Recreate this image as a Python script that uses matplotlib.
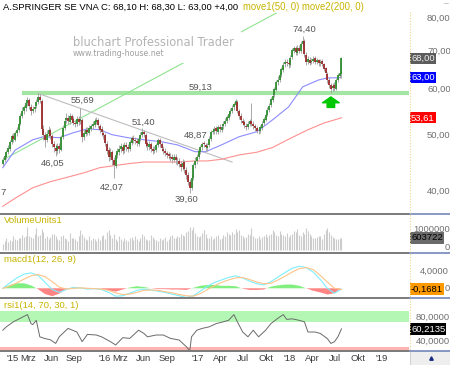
import numpy as np
import pandas as pd
import matplotlib
matplotlib.use("Agg")
import matplotlib.pyplot as plt
import matplotlib.dates as mdates
from matplotlib.transforms import blended_transform_factory
from matplotlib.lines import Line2D
from matplotlib.patches import Rectangle

plt.rcParams['font.family'] = ['Liberation Sans', 'DejaVu Sans']

# weekly candles, A.SPRINGER SE, Nov 2014 - Jul 2018
opens = [
    44.6, 45.3, 45.9, 46.7, 47.4, 48.7, 49.9, 49.1, 50.5, 51.1,
    52.4, 54.1, 55.1, 55.8, 56.9, 57.5, 56.1, 55.1, 55.5, 56.2,
    57.1, 58.2, 57.4, 51.3, 50.0, 49.1, 50.2, 51.0, 49.9, 48.3,
    47.5, 47.0, 47.9, 47.2, 49.7, 51.4, 53.1, 53.5, 52.8, 54.0,
    53.3, 52.5, 52.4, 53.3, 52.9, 53.2, 49.7, 50.3, 51.1, 50.5,
    51.3, 51.9, 52.1, 52.8, 53.2, 51.9, 51.2, 50.5, 50.1, 48.3,
    47.1, 45.8, 46.7, 45.3, 44.2, 46.2, 46.8, 47.4, 47.7, 47.1,
    48.0, 47.7, 47.3, 48.5, 49.5, 49.0, 48.9, 48.3, 49.3, 50.0,
    50.7, 50.1, 48.4, 47.7, 48.3, 47.3, 47.0, 47.1, 48.1, 49.0,
    48.3, 47.4, 47.0, 46.5, 46.3, 45.9, 45.8, 45.3, 45.9, 45.1,
    45.1, 44.5, 44.0, 44.9, 43.5, 42.7, 41.4, 40.5, 42.1, 44.4,
    45.0, 45.9, 46.8, 47.7, 48.4, 48.1, 47.5, 48.0, 49.2, 50.7,
    50.8, 51.4, 50.7, 51.7, 51.1, 51.8, 52.3, 53.0, 53.6, 54.5,
    55.0, 55.9, 56.5, 57.2, 55.1, 54.1, 53.0, 52.7, 51.9, 51.7,
    52.2, 53.0, 52.3, 51.8, 51.5, 50.8, 50.9, 51.5, 52.5, 53.2,
    54.3, 55.3, 56.4, 57.7, 58.7, 60.0, 61.9, 62.4, 63.7, 65.0,
    66.4, 67.1, 66.9, 66.3, 68.3, 70.2, 70.9, 69.6, 71.0, 70.1,
    72.2, 72.9, 69.1, 67.1, 67.7, 67.0, 67.3, 68.1, 67.0, 67.6,
    66.7, 67.3, 66.5, 65.4, 64.0, 62.5, 61.1, 60.4, 61.1, 60.3,
    62.4, 63.5, 64.0]
highs = [
    45.8, 46.5, 47.2, 48.1, 49.0, 50.3, 50.5, 50.9, 51.6, 52.8,
    54.6, 55.9, 56.5, 57.4, 58.2, 58.0, 56.6, 56.3, 56.8, 57.9,
    59.13, 58.9, 57.8, 52.0, 50.6, 51.0, 51.8, 51.5, 50.3, 48.9,
    48.2, 48.4, 48.5, 50.0, 52.0, 53.6, 54.6, 54.2, 54.7, 54.5,
    53.9, 53.2, 53.9, 54.0, 55.69, 53.5, 51.0, 51.6, 51.7, 52.0,
    52.4, 52.9, 53.5, 53.8, 53.6, 52.4, 51.8, 51.0, 50.5, 48.8,
    47.6, 47.5, 47.1, 45.9, 46.6, 47.5, 48.0, 48.4, 48.2, 48.7,
    48.6, 48.2, 49.1, 49.9, 50.0, 49.6, 49.4, 49.8, 50.6, 51.40,
    51.1, 50.4, 48.9, 48.8, 48.7, 47.8, 47.8, 48.5, 49.5, 49.4,
    48.7, 47.9, 47.5, 47.0, 46.8, 46.5, 46.3, 46.4, 46.3, 45.8,
    45.7, 45.0, 45.4, 45.2, 44.0, 43.2, 41.9, 42.8, 44.8, 45.8,
    46.4, 47.4, 48.1, 48.7, 48.87, 48.5, 48.4, 49.8, 51.0, 51.5,
    51.9, 51.8, 52.1, 52.2, 52.3, 53.0, 53.5, 54.2, 55.0, 55.7,
    56.4, 57.2, 57.9, 57.6, 55.6, 54.6, 53.6, 53.2, 52.5, 52.9,
    53.4, 57.0, 52.9, 52.3, 51.9, 51.4, 52.1, 52.9, 53.8, 54.7,
    55.9, 56.9, 58.3, 59.3, 60.7, 62.4, 63.4, 64.2, 65.8, 67.0,
    68.0, 67.9, 67.5, 68.9, 71.0, 71.6, 71.4, 71.7, 71.9, 72.9,
    74.40, 73.5, 69.8, 68.6, 68.3, 68.1, 68.7, 68.6, 68.2, 68.0,
    67.9, 67.8, 66.9, 65.8, 64.5, 63.0, 61.6, 61.7, 61.9, 62.9,
    64.2, 64.8, 68.3]
lows = [
    44.2, 44.9, 45.5, 46.3, 47.0, 48.3, 48.6, 48.8, 49.9, 50.7,
    52.0, 53.6, 54.5, 55.2, 56.3, 55.6, 54.3, 54.6, 54.9, 55.7,
    56.7, 56.8, 50.6, 49.0, 47.6, 48.6, 49.7, 49.2, 47.6, 46.8,
    46.05, 46.4, 46.6, 46.9, 49.3, 51.0, 52.6, 52.3, 52.2, 52.7,
    52.0, 51.7, 51.9, 52.1, 52.4, 48.7, 49.1, 49.8, 50.0, 50.1,
    50.8, 51.3, 51.6, 52.2, 51.4, 50.5, 49.9, 49.3, 47.8, 46.3,
    45.1, 45.2, 44.3, 42.07, 43.8, 45.6, 46.2, 46.8, 46.4, 46.6,
    47.0, 46.8, 47.0, 48.1, 48.5, 48.2, 47.8, 47.9, 48.9, 49.6,
    49.6, 47.7, 47.1, 47.2, 46.8, 46.3, 46.5, 46.7, 47.7, 47.6,
    46.9, 46.3, 46.0, 45.6, 45.4, 45.1, 44.8, 44.9, 44.6, 44.3,
    44.0, 43.4, 43.5, 43.0, 41.9, 40.9, 39.60, 40.1, 41.8, 43.9,
    44.6, 45.4, 46.3, 47.2, 47.6, 47.0, 46.9, 47.7, 48.9, 50.2,
    50.3, 50.2, 50.3, 50.7, 50.6, 51.3, 51.9, 52.6, 53.2, 54.0,
    54.6, 55.4, 56.0, 54.7, 53.4, 52.5, 52.0, 51.4, 51.0, 51.2,
    51.8, 51.9, 51.3, 50.8, 50.4, 50.2, 50.5, 51.1, 52.1, 52.9,
    53.9, 54.9, 56.0, 57.2, 58.2, 59.6, 61.2, 61.9, 63.2, 64.5,
    65.8, 66.0, 65.5, 65.8, 67.8, 69.5, 68.9, 69.0, 69.5, 69.6,
    71.5, 68.5, 66.2, 66.5, 66.2, 66.4, 66.8, 66.5, 66.4, 66.1,
    66.1, 65.9, 64.6, 63.4, 61.7, 60.5, 59.3, 59.8, 59.6, 60.0,
    61.9, 62.9, 63.0]
closes = [
    45.2, 46.0, 46.8, 47.5, 48.6, 49.8, 49.2, 50.4, 51.0, 52.3,
    54.0, 55.2, 55.9, 56.8, 57.6, 56.2, 55.0, 55.6, 56.1, 57.2,
    58.3, 57.6, 51.2, 50.1, 49.0, 50.3, 51.1, 49.8, 48.2, 47.6,
    46.9, 47.8, 47.3, 49.6, 51.5, 53.0, 53.6, 52.9, 54.1, 53.2,
    52.6, 52.3, 53.4, 52.8, 53.3, 49.6, 50.4, 51.0, 50.6, 51.4,
    51.8, 52.2, 52.9, 53.1, 52.0, 51.1, 50.6, 50.0, 48.4, 47.0,
    45.9, 46.8, 45.2, 44.3, 46.1, 46.9, 47.3, 47.8, 47.0, 48.1,
    47.6, 47.4, 48.6, 49.4, 49.1, 48.8, 48.4, 49.2, 50.1, 50.6,
    50.2, 48.3, 47.8, 48.2, 47.4, 46.9, 47.2, 48.0, 49.1, 48.2,
    47.5, 46.9, 46.6, 46.2, 46.0, 45.7, 45.4, 45.8, 45.2, 45.0,
    44.6, 44.1, 44.8, 43.6, 42.6, 41.5, 40.4, 42.2, 44.3, 45.1,
    45.8, 46.9, 47.6, 48.3, 48.2, 47.6, 47.9, 49.3, 50.6, 50.9,
    51.3, 50.8, 51.6, 51.2, 51.7, 52.4, 52.9, 53.7, 54.4, 55.1,
    55.8, 56.6, 57.3, 55.2, 54.0, 53.1, 52.6, 52.0, 51.6, 52.3,
    52.9, 52.4, 51.9, 51.4, 50.9, 50.8, 51.6, 52.4, 53.3, 54.2,
    55.4, 56.3, 57.8, 58.6, 60.1, 61.8, 62.5, 63.6, 65.1, 66.3,
    67.2, 66.8, 66.4, 68.2, 70.3, 70.8, 69.7, 70.9, 70.2, 72.1,
    73.0, 69.2, 67.0, 67.8, 66.9, 67.4, 68.0, 67.1, 67.5, 66.8,
    67.2, 66.6, 65.3, 64.1, 62.4, 61.2, 60.3, 61.0, 60.4, 62.3,
    63.6, 64.1, 68.1]
# weekly volume in thousand units
volume = [
    320, 450, 610, 380, 520, 470, 700, 560, 490, 620,
    580, 760, 650, 690, 1150, 720, 640, 580, 820, 1080,
    690, 760, 1040, 880, 610, 720, 540, 650, 780, 820,
    700, 560, 480, 690, 760, 620, 540, 470, 830, 580,
    620, 540, 470, 680, 990, 820, 660, 560, 510, 720,
    480, 610, 540, 450, 580, 490, 680, 740, 560, 880,
    990, 760, 620, 800, 540, 470, 680, 550, 430, 610,
    520, 470, 580, 640, 510, 690, 560, 450, 610, 780,
    700, 560, 480, 520, 740, 630, 570, 500, 460, 620,
    510, 560, 640, 470, 530, 690, 760, 580, 620, 700,
    660, 820, 740, 690, 880, 950, 1150, 1020, 1140, 860,
    700, 640, 720, 850, 990, 780, 620, 590, 700, 560,
    620, 680, 740, 540, 610, 760, 690, 880, 820, 760,
    900, 820, 1040, 900, 990, 760, 680, 600, 640, 820,
    730, 1090, 700, 620, 580, 690, 540, 660, 720, 810,
    640, 760, 820, 990, 880, 760, 680, 930, 820, 740,
    690, 860, 650, 760, 820, 940, 880, 1040, 760, 690,
    880, 820, 1100, 940, 780, 690, 620, 580, 650, 720,
    690, 560, 820, 980, 1100, 900, 760, 640, 580, 560,
    540, 620, 604]

# moving averages, read at some weeks
ma50_week = [0, 7, 17, 23, 32, 40, 48, 55, 62, 71, 80, 90, 99, 109, 115, 124,
             134, 144, 153, 162, 170, 179, 184, 192]
ma50_vals = [43.9, 47.1, 49.1, 49.7, 49.5, 50.5, 51.3, 51.1, 50.1, 49.5, 49.1,
             48.7, 48.1, 46.8, 46.8, 48.1, 49.7, 50.7, 53.2, 56.0, 60.7, 62.4,
             62.9, 63.0]
ma200_week = [0, 8, 17, 27, 36, 46, 55, 62, 71, 80, 90, 99, 109, 116, 124, 134,
              144, 153, 162, 173, 182, 192]
ma200_vals = [37.6, 39.0, 40.5, 41.5, 42.2, 43.0, 43.9, 44.2, 44.6, 44.9, 44.9,
              44.9, 45.1, 45.1, 45.4, 46.2, 46.7, 47.6, 49.2, 51.1, 52.5, 53.61]

# macd(12,26,9), every 4th week
macd_week = list(range(0, 193, 4))
macd_vals = [0.0, 1.3, 2.5, 3.4, 3.7, 3.1, 1.4, -0.3, -1.0, -0.3,
             0.2, 0.1, -0.2, -0.1, -0.3, -1.0, -1.9, -1.8, -1.2, -0.5,
             -0.2, -0.4, -0.7, -1.0, -1.4, -1.8, -2.2, -1.8, -0.7, 0.5,
             1.4, 2.0, 2.6, 3.0, 2.5, 1.7, 1.1, 0.8, 1.6, 2.7,
             3.8, 4.8, 5.3, 5.0, 3.9, 2.1, 0.0, -1.2, -0.2]
signal_vals = [0.0, 0.5, 1.3, 2.2, 3.0, 3.3, 2.8, 1.6, 0.3, -0.2,
               0.0, 0.1, 0.0, -0.1, -0.2, -0.5, -1.1, -1.5, -1.4, -1.0,
               -0.5, -0.4, -0.5, -0.8, -1.1, -1.5, -1.8, -1.9, -1.3, -0.3,
               0.6, 1.4, 2.0, 2.5, 2.6, 2.1, 1.5, 1.1, 1.2, 2.0,
               2.9, 3.9, 4.7, 5.0, 4.5, 3.1, 1.5, 0.0, -0.3]

# rsi(14)
rsi_week = [0, 2, 6, 10, 14, 16, 17, 19, 21, 24, 27, 30, 32, 37, 42, 45, 48, 53,
            56, 61, 64, 68, 72, 77, 80, 82, 87, 91, 95, 100, 104, 106, 107, 110,
            113, 117, 121, 125, 128, 131, 133, 136, 139, 142, 145, 149, 152, 156,
            159, 161, 164, 168, 171, 173, 177, 180, 184, 186, 188, 190, 192]
rsi_vals = [58, 63.6, 72, 78, 84, 69, 67.4, 74.5, 47, 44, 42, 36, 47, 61, 55, 39,
            51, 50, 47, 39, 33.4, 45.5, 44.4, 58, 52.6, 47, 50, 50, 44.4, 41.6,
            30.7, 23.6, 47, 58, 61, 63.6, 69, 72, 74.5, 84, 72, 55, 47, 58, 47,
            58, 69, 78, 84, 76, 77, 74.5, 72, 55, 55, 52.6, 44, 36, 38.7, 47, 60.2]

# marked highs / lows: week, price
pivots = [(20, 59.13), (44, 55.69), (30, 46.05), (79, 51.40), (63, 42.07),
          (114, 48.87), (106, 39.60), (170, 74.40)]

tick_dates = ['2015-01-01', '2015-03-01', '2015-06-01', '2015-09-01',
              '2016-01-01', '2016-03-01', '2016-06-01', '2016-09-01',
              '2017-01-01', '2017-04-01', '2017-07-01', '2017-10-01',
              '2018-01-01', '2018-04-01', '2018-07-01', '2018-10-01', '2019-01-01']
tick_labels = ["'15", 'Mrz', 'Jun', 'Sep', "'16", 'Mrz', 'Jun', 'Sep',
               "'17", 'Apr', 'Jul', 'Okt', "'18", 'Apr', 'Jul', 'Okt', "'19"]

o = np.array(opens); h = np.array(highs); l = np.array(lows); c = np.array(closes)
dates = pd.date_range(end='2018-07-27', periods=len(closes), freq='W-FRI')
x = mdates.date2num(dates.to_pydatetime())

W, H = 450, 365
fig = plt.figure(figsize=(4.5, 3.65), dpi=100)
fig.patch.set_facecolor('white')


def box(top, bottom):
    return [0, 1 - bottom / H, 409 / W, (bottom - top) / H]


ax = fig.add_axes(box(0, 213))
axv = fig.add_axes(box(214, 252))
axm = fig.add_axes(box(253, 297))
axr = fig.add_axes(box(298, 350))
xlim = mdates.date2num([pd.Timestamp('2014-11-10'), pd.Timestamp('2019-04-21')])
for a in (ax, axv, axm, axr):
    a.set_xlim(*xlim)
    for s in a.spines.values():
        s.set_visible(False)
    a.tick_params(left=False, labelleft=False, bottom=False, labelbottom=False)

# ---- price panel
ax.set_yscale('log')
ax.set_ylim(36.6, 86.0)
ax.minorticks_off()
ax.set_yticks([])
up = c >= o
ax.vlines(x, l, h, color='#a9a9a9', lw=0.7, zorder=3)
ax.vlines(x[up], o[up], c[up], color='#2f8f2f', lw=1.3, zorder=4)
ax.vlines(x[~up], c[~up], o[~up], color='#9c2b2b', lw=1.3, zorder=4)
ax.plot(x[ma50_week], ma50_vals, color='#8c8cff', lw=0.8, zorder=2)
ax.plot(x[ma200_week], ma200_vals, color='#ff9090', lw=0.8, zorder=2)

ax.plot([x[11], xlim[1]], [59.13, 59.13], color='#a3e6a3', lw=3, zorder=1,
        solid_capstyle='butt')
ax.plot([x[0], x[155]], [45.3, 81.6], color='#8fe38f', lw=0.8, zorder=1)
ax.plot([x[20], x[130]], [59.13, 44.9], color='#bdbdbd', lw=0.8, zorder=1)

offs = {44: (2, 8), 30: (-3, -8), 79: (1, 6), 63: (-2, -9),
        114: (-8, 6), 106: (-3, -6), 170: (2, 7)}
for wk, val in pivots:
    lab = f'{val:.2f}'.replace('.', ',')
    if wk == 20:
        # level of the green support line, labelled further right
        ax.annotate(lab, xy=(x[112], val), xytext=(0, 6), textcoords='offset pixels',
                    ha='center', va='center', fontsize=6.8, color='#555555')
    else:
        ax.annotate(lab, xy=(x[wk], val), xytext=offs[wk], textcoords='offset pixels',
                    ha='center', va='center', fontsize=6.8, color='#555555')
ax.text(0.0, 39.7, '7', transform=blended_transform_factory(ax.transAxes, ax.transData),
        ha='left', va='center', fontsize=6.8, color='#555555')

ax.annotate('', xy=(x[186], 58.3), xytext=(x[186], 55.9),
            arrowprops=dict(arrowstyle='simple,head_length=0.35,head_width=1.0,tail_width=0.45',
                            color='#00c800', mutation_scale=12, shrinkA=0, shrinkB=0))

# watermark
ax.add_patch(Rectangle((70 / W, 1 - 63 / H), 171 / W, 35 / H, transform=fig.transFigure,
                       fc='white', ec='none', zorder=5))
ax.text(73 / W, 1 - 42 / H, 'bluchart Professional Trader', transform=fig.transFigure,
        family='DejaVu Sans', fontsize=8.3, color='#b4b4b4', va='center', zorder=6)
ax.text(73 / W, 1 - 54 / H, 'www.trading-house.net', transform=fig.transFigure,
        family='DejaVu Sans', fontsize=5.7, color='#a0a0a0', va='center', zorder=6)

fig.text(3 / W, 1 - 7 / H, 'A.SPRINGER SE VNA C: 68,10 H: 68,30 L: 63,00 +4,00',
         fontsize=6.8, color='black', va='center')
fig.text(243 / W, 1 - 7 / H, 'move1(50, 0) move2(200, 0)', fontsize=6.9,
         color='#c8b400', va='center')

# ---- volume panel
axv.set_ylim(-0.1, 1.8)
axv.vlines(x, 0, np.array(volume) / 1000, color='#cccccc', lw=0.8)
axv.text(4 / W, 1 - 221 / H, 'VolumeUnits1', transform=fig.transFigure, fontsize=6.8,
         color='#c8b400', va='center')

# ---- macd panel
axm.set_ylim(-2.1, 8.5)
xm = x[macd_week]
mv = np.array(macd_vals); sv = np.array(signal_vals)
hist = mv - sv
axm.fill_between(xm, 0, hist, where=hist >= 0, color='#80ef80', lw=0, interpolate=True)
axm.fill_between(xm, 0, hist, where=hist < 0, color='#ff8585', lw=0, interpolate=True)
axm.plot(xm, mv, color='#7eeeff', lw=0.8)
axm.plot(xm, sv, color='#ffc488', lw=0.8)
axm.text(4 / W, 1 - 260 / H, 'macd1(12, 26, 9)', transform=fig.transFigure, fontsize=6.8,
         color='#c8b400', va='center')

# ---- rsi panel
axr.set_ylim(25, 111.7)
axr.axhspan(71, 90, color='#b4f7b4', lw=0)
axr.axhspan(20, 30, color='#ffb4b4', lw=0)
axr.plot(x[rsi_week], rsi_vals, color='#6a6a6a', lw=0.7)
axr.text(4 / W, 1 - 306 / H, 'rsi1(14, 70, 30, 1)', transform=fig.transFigure,
         fontsize=6.8, color='#c8b400', va='center')
axr.set_xticks(mdates.date2num(pd.to_datetime(tick_dates).to_pydatetime()))
axr.set_xticklabels(tick_labels)
axr.tick_params(labelbottom=True, length=0, pad=3, labelsize=6.8, labelcolor='#3c3c3c')

# ---- right scale column
def rlabel(a, val, s, xpx, fg='#707070', bg=None):
    tr = blended_transform_factory(fig.transFigure, a.transData)
    kw = {}
    if bg is not None:
        kw['bbox'] = dict(boxstyle='square,pad=0.12', fc=bg, ec='none')
    a.text(xpx / W, val, s, transform=tr, fontsize=6.8, color=fg, ha='left',
           va='center', clip_on=False, **kw)


for v in [80, 70, 60, 50, 40]:
    rlabel(ax, v, f'{v},00', 427)
rlabel(ax, 68.0, '68,00', 411, fg='#eeeeee', bg='#5c5c5c')
rlabel(ax, 63.0, '63,00', 411, fg='white', bg='#0000ff')
rlabel(ax, 53.61, '53,61', 411, fg='white', bg='#ff0000')
rlabel(axv, 1.0, '1000000', 413)
rlabel(axv, 0.1, '0', 445)
rlabel(axv, 0.604, '603722', 411, fg='black', bg='#6a6a6a')
rlabel(axm, 4.0, '4,0000', 420)
rlabel(axm, 0.0, '0', 445)
rlabel(axm, -0.1681, '-0,1681', 411, fg='black', bg='#ff9900')
rlabel(axr, 80, '80,0000', 416)
rlabel(axr, 40, '40,0000', 416)
rlabel(axr, 60.2135, '60,2135', 411, fg='white', bg='black')

# separators and frame bits
for ypx in [213.5, 252.5, 297.5, 350.5]:
    fig.add_artist(Line2D([0, 409 / W], [1 - ypx / H] * 2, transform=fig.transFigure,
                          color='#707070', lw=1.3))
    fig.add_artist(Line2D([410 / W, 1], [1 - ypx / H] * 2, transform=fig.transFigure,
                          color='#8090c0', lw=1.3))
fig.add_artist(Line2D([410 / W] * 2, [1 - 12 / H, 1 - 350 / H], transform=fig.transFigure,
                      color='#e6d48a', lw=0.8, ls=(0, (1, 1.5))))
fig.add_artist(Rectangle((410 / W, 0), 40 / W, 14 / H, transform=fig.transFigure,
                         fc='#eeeeee', ec='#c8c8c8', lw=0.6))
fig.add_artist(Line2D([431 / W], [1 - 358 / H], transform=fig.transFigure, marker='^',
                      ms=2.5, color='#1a2a80', ls='none'))
fig.text(444 / W, 1 - 4 / H, '–', fontsize=6, color='#909090', va='center')

fig.savefig('out.png', dpi=100)
